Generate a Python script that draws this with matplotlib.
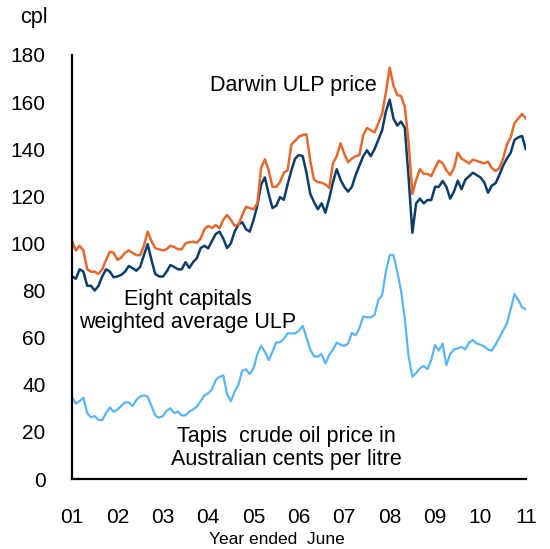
import matplotlib.pyplot as plt
import numpy as np

# Monthly data, first point at "01" tick, last at "11" tick (cents per litre)
darwin_ulp = [101, 97, 99, 97, 89, 88, 88, 87, 89, 93,
              96.5, 96, 93, 94, 96, 97, 96, 95, 95, 99,
              105, 101, 98, 97.5, 97, 97.5, 99, 98.5, 97.5, 97.5,
              100, 100.5, 100.7, 100.3, 102, 106, 107.4, 106.5, 107.8, 106.4,
              110, 112, 110, 107.5, 108, 112, 115.5, 115, 114.5, 117,
              132, 135.7, 131, 124, 124, 126, 130, 131, 142, 143.5,
              145.3, 146, 146.3, 135, 127, 126, 125.8, 125, 123.6, 134,
              137, 142.5, 138, 134.5, 136, 137, 137.5, 146, 149, 148,
              147.1, 151, 155, 164, 174.6, 167, 163, 162.5, 158, 143,
              121, 127, 131.5, 129.5, 129.5, 128.6, 132, 135.1, 134, 131,
              129, 132, 138.5, 136, 135, 134, 135.5, 135, 134.5, 134,
              134.7, 132, 130.7, 132, 136, 142, 145, 151, 153, 154.9,
              153]

eight_capitals = [86, 85, 89, 88, 82, 82, 80, 82, 86, 89,
                  88, 85.6, 86, 86.6, 88, 90.4, 89.5, 88.4, 90, 95,
                  99.7, 93, 87, 86, 85.9, 88, 90.8, 90, 89, 89,
                  92, 89.6, 92, 93.7, 98, 99, 97.9, 101, 104, 105,
                  102, 98, 100, 105, 108, 109, 106, 105, 110, 116,
                  125, 128, 121, 115, 116, 119.6, 118.5, 125, 131, 136,
                  137.5, 137, 130, 121, 117.5, 114.5, 117, 113, 119, 126,
                  131.5, 127, 124, 122, 124, 129, 133, 137, 139.5, 137,
                  140, 144, 148, 156, 161, 153, 150, 151.7, 149, 128,
                  104.5, 117, 119, 117, 118.4, 118.4, 124, 124, 126.5, 124,
                  119, 122, 126.6, 123, 127, 128.5, 130, 129, 128, 126,
                  121.5, 124.5, 125.5, 129, 133, 136, 138.5, 143.9, 145, 145.6,
                  140]

tapis = [34.7, 32, 33, 34.5, 28, 26.2, 26.7, 25, 25, 28,
         30.4, 28.5, 29.5, 31, 32.5, 32.5, 31, 33.5, 35, 35.5,
         35, 31, 27, 26, 26.7, 29, 30, 28, 28.6, 27,
         27, 28.6, 29.5, 30.7, 33, 35.5, 36.4, 38, 42, 43.4,
         44, 36, 33, 37, 40, 46, 46.5, 44.5, 47, 53,
         56.5, 54, 50.5, 54, 58, 58, 59.5, 61.8, 61.8, 61.8,
         63, 65, 60, 55, 52, 52, 53, 49, 52.6, 55,
         57.9, 57, 56.5, 57.5, 62, 61, 64, 69, 68.6, 68.6,
         69.6, 76, 78, 88, 95, 95, 88, 80, 68, 52,
         43.4, 45, 47, 48, 46.6, 50.5, 56.9, 54.5, 57.5, 48.4,
         53, 55, 55.5, 56, 55, 58, 59, 57.5, 57, 56.2,
         55, 54.5, 57, 60, 63, 66, 72, 78.5, 76, 72.9,
         72]

year_labels = ['01', '02', '03', '04', '05', '06', '07', '08', '09', '10', '11']

plt.rcParams['font.family'] = ['Liberation Sans', 'DejaVu Sans']

months = np.arange(len(darwin_ulp)) / 12 + 2001
years = np.arange(2001, 2012)

fig = plt.figure(figsize=(5.5, 5.49), dpi=100)
ax = fig.add_axes([0.131, 0.1275, 0.825, 0.7725])

ax.plot(months, tapis, color='#5AB4F5', lw=1.6)
ax.plot(months, eight_capitals, color='#0C3D69', lw=1.8)
ax.plot(months, darwin_ulp, color='#E5692E', lw=1.8)

ax.set_xlim(2001, 2011)
ax.set_ylim(0, 180)
ax.set_yticks(np.arange(0, 181, 20))
ax.set_xticks(years)
ax.set_xticklabels(year_labels)
ax.tick_params(length=0, labelsize=15)
ax.tick_params(axis='y', pad=19)
ax.tick_params(axis='x', pad=21)

for s in ['top', 'right']:
    ax.spines[s].set_visible(False)
for s in ['left', 'bottom']:
    ax.spines[s].set_linewidth(1.6)
    ax.spines[s].set_color('black')

fig.text(34 / 550, 1 - 17 / 549, 'cpl', fontsize=15.5, ha='center', va='center')
fig.text(293 / 550, 1 - 85 / 549, 'Darwin ULP price', fontsize=15.5,
         ha='center', va='center')
fig.text(188 / 550, 1 - 311 / 549, 'Eight capitals\nweighted average ULP',
         fontsize=15.5, ha='center', va='center', linespacing=1.1)
fig.text(286 / 550, 1 - 448 / 549,
         'Tapis  crude oil price in\nAustralian cents per litre',
         fontsize=15.5, ha='center', va='center', linespacing=1.1)
fig.text(277 / 550, 1 - 540 / 549, 'Year ended  June', fontsize=12.5,
         ha='center', va='center')

fig.savefig('out.png', dpi=100)
